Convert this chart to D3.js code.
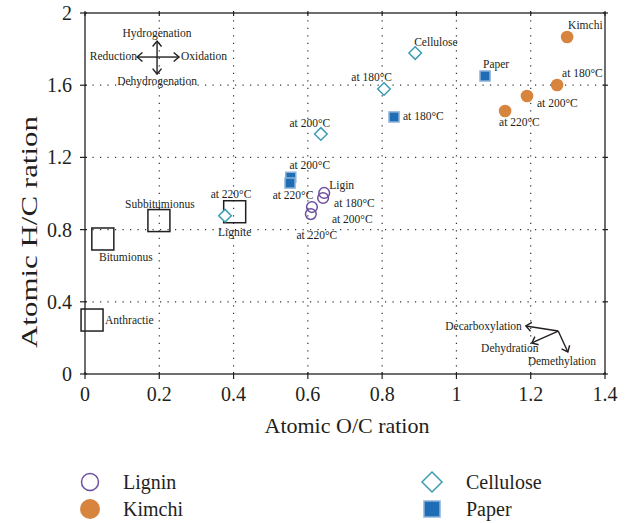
<!DOCTYPE html>
<html>
<head>
<meta charset="utf-8">
<script src="https://cdn.jsdelivr.net/npm/d3@7"></script>
<style>
  body { margin: 0; background: #fff; }
  svg text { font-family: "Liberation Serif", "Times New Roman", serif; fill: #231f20; }
</style>
</head>
<body>
<svg id="chart" width="629" height="523"></svg>
<script>
// --- Data ------------------------------------------------------------------
const ligninOC = [0.644, 0.641, 0.611, 0.608];
const ligninHC = [1.003, 0.975, 0.925, 0.886];
const ligninLabels = ["Ligin", "at 180°C", "at 200°C", "at 220°C"];

const kimchiOC = [1.298, 1.271, 1.190, 1.131];
const kimchiHC = [1.867, 1.601, 1.540, 1.457];
const kimchiLabels = ["Kimchi", "at 180°C", "at 200°C", "at 220°C"];

const celluloseOC = [0.889, 0.805, 0.635, 0.377];
const celluloseHC = [1.778, 1.579, 1.330, 0.877];
const celluloseLabels = ["Cellulose", "at 180°C", "at 200°C", "at 220°C"];

const paperOC = [1.077, 0.832, 0.554, 0.552];
const paperHC = [1.651, 1.424, 1.090, 1.058];
const paperLabels = ["Paper", "at 180°C", "at 200°C", "at 220°C"];

const coalNames = ["Anthractie", "Bitumionus", "Subbitumionus", "Lignite"];
const coalOC = [0.019, 0.048, 0.199, 0.403];
const coalHC = [0.299, 0.748, 0.850, 0.899];

const xTicks = [0, 0.2, 0.4, 0.6, 0.8, 1, 1.2, 1.4];
const yTicks = [0, 0.4, 0.8, 1.2, 1.6, 2];
const xTitle = "Atomic O/C ration";
const yTitle = "Atomic H/C ration";

// reaction arrows (van Krevelen hints), in data units
const crossCenter = [0.194, 1.756];
const crossLabels = ["Hydrogenation", "Dehydrogenation", "Reduction", "Oxidation"];
const fanOrigin = [1.274, 0.238];
const fanTargets = [[1.187, 0.266], [1.203, 0.172], [1.300, 0.122]];
const fanLabels = ["Decarboxylation", "Dehydration", "Demethylation"];

// --- Layout ----------------------------------------------------------------
const svg = d3.select("#chart");
const mLeft = 85, mRight = 605, mTop = 13, mBottom = 374;
const x = d3.scaleLinear().domain([0, 1.4]).range([mLeft, mRight]);
const y = d3.scaleLinear().domain([0, 2]).range([mBottom, mTop]);
const ink = "#231f20";

// dotted grid
const grid = svg.append("g").attr("stroke", "#333").attr("stroke-width", 1.2)
  .attr("stroke-dasharray", "1.2,6.3");
grid.selectAll("line.v").data(xTicks.slice(1, -1)).join("line")
  .attr("x1", d => x(d)).attr("x2", d => x(d)).attr("y1", mBottom).attr("y2", mTop);
grid.selectAll("line.h").data(yTicks.slice(1, -1)).join("line")
  .attr("x1", mLeft).attr("x2", mRight).attr("y1", d => y(d)).attr("y2", d => y(d));

// frame + ticks
svg.append("rect").attr("x", mLeft).attr("y", mTop).attr("width", mRight - mLeft).attr("height", mBottom - mTop)
  .attr("fill", "none").attr("stroke", ink).attr("stroke-width", 1.3);

const tk = svg.append("g").attr("stroke", ink).attr("stroke-width", 1.2);
tk.selectAll("line.xb").data(xTicks).join("line")
  .attr("x1", d => x(d)).attr("x2", d => x(d)).attr("y1", mBottom - 2).attr("y2", mBottom + 5);
tk.selectAll("line.xt").data(xTicks).join("line")
  .attr("x1", d => x(d)).attr("x2", d => x(d)).attr("y1", mTop - 2).attr("y2", mTop + 3);
tk.selectAll("line.yl").data(yTicks).join("line")
  .attr("x1", mLeft - 5).attr("x2", mLeft + 2).attr("y1", d => y(d)).attr("y2", d => y(d));
tk.selectAll("line.yr").data(yTicks).join("line")
  .attr("x1", mRight - 2).attr("x2", mRight + 3).attr("y1", d => y(d)).attr("y2", d => y(d));

svg.append("g").selectAll("text").data(xTicks).join("text")
  .attr("x", d => x(d)).attr("y", mBottom + 27).attr("text-anchor", "middle")
  .attr("font-size", 20).text(d => d);
svg.append("g").selectAll("text").data(yTicks).join("text")
  .attr("x", mLeft - 13).attr("y", d => y(d)).attr("dy", "0.35em").attr("text-anchor", "end")
  .attr("font-size", 20).text(d => d);

svg.append("text").attr("x", 347).attr("y", 433).attr("text-anchor", "middle")
  .attr("font-size", 22).text(xTitle);
svg.append("text").attr("transform", "translate(37,232) rotate(-90)")
  .attr("text-anchor", "middle").attr("font-size", 24)
  .attr("textLength", 232).attr("lengthAdjust", "spacingAndGlyphs").text(yTitle);

// --- Coal reference squares -----------------------------------------------
const coalOffsets = [[13, 0, "start"], [23, 18, "middle"], [1, -17, "middle"], [0, 20, "middle"]];
const coal = d3.range(coalNames.length).map(i => ({ x: coalOC[i], y: coalHC[i], name: coalNames[i] }));
svg.append("g").selectAll("rect").data(coal).join("rect")
  .attr("x", d => x(d.x) - 11).attr("y", d => y(d.y) - 11).attr("width", 22).attr("height", 22)
  .attr("fill", "none").attr("stroke", ink).attr("stroke-width", 1.5);
svg.append("g").selectAll("text").data(coal).join("text")
  .attr("x", (d, i) => x(d.x) + coalOffsets[i][0]).attr("y", (d, i) => y(d.y) + coalOffsets[i][1])
  .attr("dy", "0.35em").attr("text-anchor", (d, i) => coalOffsets[i][2])
  .attr("font-size", 11.5).text(d => d.name);

// --- Series ----------------------------------------------------------------
const series = [
  { key: "Lignin", xs: ligninOC, ys: ligninHC, labels: ligninLabels, shape: "circle", fill: "none", stroke: "#6c4f9f",
    offsets: [[5, -8, "start"], [11, 5, "start"], [20, 12, "start"], [6, 21, "middle"]] },
  { key: "Kimchi", xs: kimchiOC, ys: kimchiHC, labels: kimchiLabels, shape: "circle", fill: "#d7843f", stroke: "none",
    offsets: [[1, -12, "start"], [5, -12, "start"], [10, 7, "start"], [-6, 11, "start"]] },
  { key: "Cellulose", xs: celluloseOC, ys: celluloseHC, labels: celluloseLabels, shape: "diamond", fill: "none", stroke: "#3c9db4",
    offsets: [[-1, -11, "start"], [8, -12, "end"], [-11, -11, "middle"], [6, -22, "middle"]] },
  { key: "Paper", xs: paperOC, ys: paperHC, labels: paperLabels, shape: "square", fill: "#1f6db5", stroke: "#8fb3da",
    offsets: [[-2, -12, "start"], [9, -1, "start"], [19, -12, "middle"], [3, 12, "middle"]] }
];

function drawMarker(g, shape, fill, stroke, size) {
  if (shape === "circle") {
    g.append("circle").attr("r", fill === "none" ? size * 0.85 : size)
      .attr("fill", fill).attr("stroke", stroke).attr("stroke-width", 1.5);
  } else if (shape === "diamond") {
    const s = size;
    g.append("path").attr("d", `M0,${-s}L${s},0L0,${s}L${-s},0Z`)
      .attr("fill", "#fff").attr("stroke", stroke).attr("stroke-width", 1.5);
  } else {
    const s = size * 0.8;
    g.append("rect").attr("x", -s).attr("y", -s).attr("width", 2 * s).attr("height", 2 * s)
      .attr("fill", fill).attr("stroke", stroke).attr("stroke-width", 1.5);
  }
}

for (const s of series) {
  const pts = d3.range(s.xs.length).map(i => ({ x: s.xs[i], y: s.ys[i], label: s.labels[i], off: s.offsets[i] }));
  const g = svg.append("g");
  g.selectAll("g").data(pts).join("g")
    .attr("transform", d => `translate(${x(d.x)},${y(d.y)})`)
    .each(function () { drawMarker(d3.select(this), s.shape, s.fill, s.stroke, 6.3); });
  g.selectAll("text").data(pts).join("text")
    .attr("x", d => x(d.x) + d.off[0]).attr("y", d => y(d.y) + d.off[1])
    .attr("dy", "0.35em").attr("text-anchor", d => d.off[2])
    .attr("font-size", 11.5).text(d => d.label);
}

// --- Reaction arrows --------------------------------------------------------
function arrow(g, x1, y1, x2, y2, head) {
  g.append("line").attr("x1", x1).attr("y1", y1).attr("x2", x2).attr("y2", y2);
  const a = Math.atan2(y2 - y1, x2 - x1);
  const p = [a + Math.PI * 0.78, a - Math.PI * 0.78].map(t => [x2 + Math.cos(t) * head, y2 + Math.sin(t) * head]);
  g.append("path").attr("fill", "none").attr("d", `M${p[0]}L${x2},${y2}L${p[1]}`);
}

const ar = svg.append("g").attr("stroke", ink).attr("stroke-width", 1.4);
const cx = x(crossCenter[0]), cy = y(crossCenter[1]);
arrow(ar, cx, cy, cx, cy - 16, 7);
arrow(ar, cx, cy, cx, cy + 17, 7);
arrow(ar, cx, cy, cx - 20, cy, 7);
arrow(ar, cx, cy, cx + 22, cy, 7);

const cl = svg.append("g").attr("font-size", 11.5);
cl.append("text").attr("x", cx).attr("y", cy - 24).attr("dy", "0.35em").attr("text-anchor", "middle").text(crossLabels[0]);
cl.append("text").attr("x", cx).attr("y", cy + 24).attr("dy", "0.35em").attr("text-anchor", "middle").text(crossLabels[1]);
cl.append("text").attr("x", cx - 20).attr("y", cy - 1).attr("dy", "0.35em").attr("text-anchor", "end").text(crossLabels[2]);
cl.append("text").attr("x", cx + 24).attr("y", cy - 1).attr("dy", "0.35em").attr("text-anchor", "start").text(crossLabels[3]);

const ox = x(fanOrigin[0]), oy = y(fanOrigin[1]);
fanTargets.forEach(t => arrow(ar, ox, oy, x(t[0]), y(t[1]), 7));
const fanOffsets = [[-4, 0, "end"], [-22, 5, "middle"], [-6, 9, "middle"]];
fanLabels.forEach((lab, i) => {
  cl.append("text").attr("x", x(fanTargets[i][0]) + fanOffsets[i][0]).attr("y", y(fanTargets[i][1]) + fanOffsets[i][1])
    .attr("dy", "0.35em").attr("text-anchor", fanOffsets[i][2]).text(lab);
});

// --- Legend ----------------------------------------------------------------
const legendCols = [[90, 123], [432, 466]];
const legendRows = [482, 509];
const lg = svg.append("g");
series.forEach((s, i) => {
  const c = i < 2 ? legendCols[0] : legendCols[1];
  const yy = legendRows[i % 2];
  const g = lg.append("g").attr("transform", `translate(${c[0]},${yy})`);
  drawMarker(g, s.shape, s.fill, s.stroke, 10);
  lg.append("text").attr("x", c[1]).attr("y", yy).attr("dy", "0.35em").attr("font-size", 20).text(s.key);
});
</script>
</body>
</html>
